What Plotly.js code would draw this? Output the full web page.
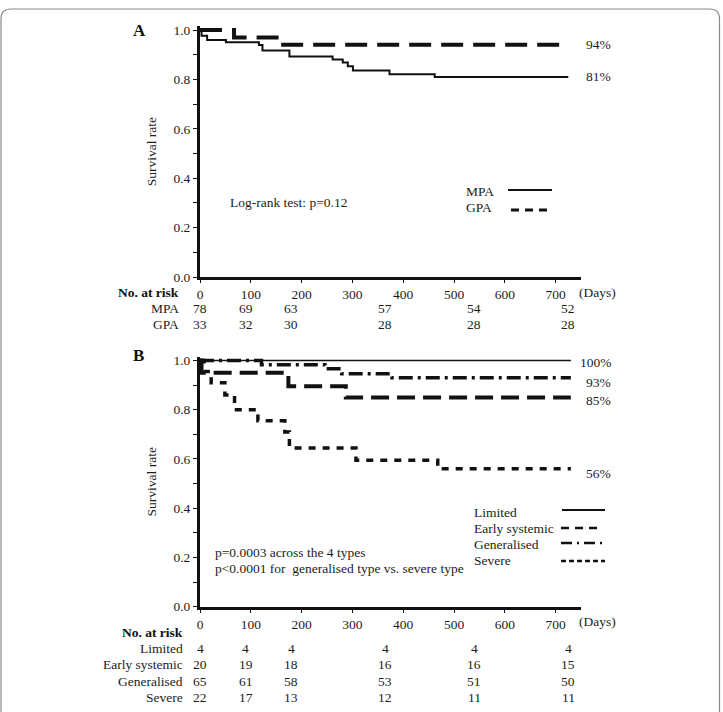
<!DOCTYPE html>
<html>
<head>
<meta charset="utf-8">
<script src="https://cdn.plot.ly/plotly-3.0.1.min.js"></script>
<style>
  html, body { margin: 0; padding: 0; background: #fff; }
  #chart { width: 723px; height: 712px; }
</style>
</head>
<body>
<div id="chart"></div>
<script>
// ---- Panel A: survival by diagnosis (MPA vs GPA) ----
const mpaDays = [0, 3, 14, 51, 116, 123, 176, 261, 281, 291, 301, 373, 462, 725];
const mpaSurv = [1, 0.977, 0.96, 0.95, 0.939, 0.917, 0.893, 0.881, 0.868, 0.853, 0.836, 0.821, 0.81, 0.81];
const gpaDays = [0, 67, 159, 725];
const gpaSurv = [1, 0.97, 0.94, 0.94];

// ---- Panel B: survival by EUVAS disease type ----
const limitedDays = [0, 730];
const limitedSurv = [1, 1];
const earlyDays = [0, 3, 174, 287, 730];
const earlySurv = [1, 0.95, 0.895, 0.85, 0.85];
const generalDays = [0, 121, 246, 279, 378, 730];
const generalSurv = [1, 0.983, 0.966, 0.946, 0.93, 0.93];
const severeDays = [0, 8, 22, 49, 68, 114, 167, 176, 307, 468, 730];
const severeSurv = [1, 0.955, 0.91, 0.86, 0.80, 0.755, 0.71, 0.645, 0.595, 0.56, 0.56];

// ---- Numbers at risk ----
const riskDays = [0, 90, 180, 365, 540, 725];
const mpaRisk = [78, 69, 63, 57, 54, 52];
const gpaRisk = [33, 32, 30, 28, 28, 28];
const limitedRisk = [4, 4, 4, 4, 4, 4];
const earlyRisk = [20, 19, 18, 16, 16, 15];
const generalRisk = [65, 61, 58, 53, 51, 50];
const severeRisk = [22, 17, 13, 12, 11, 11];

// ---- Axis ticks ----
const dayTicks = [0, 100, 200, 300, 400, 500, 600, 700];

const W = 723, H = 712;
const px = x => x / W;
const py = y => 1 - y / H;
const SERIF = 'Liberation Serif, Times New Roman, serif';
const FS = 13.5;
const INK = '#111';
const TXT = '#1c1c1c';

function xAxis(anchor) {
  return {
    domain: [px(200), px(581)], range: [0, 750], anchor: anchor,
    showline: true, linewidth: 3, linecolor: INK,
    ticks: 'outside', ticklen: 3, tickwidth: 1, tickcolor: INK,
    tickvals: dayTicks, showgrid: false, zeroline: false,
    tickfont: { family: SERIF, size: FS, color: TXT }
  };
}
function yAxis(anchor, dom) {
  return {
    domain: dom, range: [0, 1.015], anchor: anchor,
    showline: true, linewidth: 3, linecolor: INK,
    ticks: 'outside', ticklen: 4, tickwidth: 1, tickcolor: INK,
    tick0: 0, dtick: 0.2, tickformat: '.1f',
    minor: { dtick: 0.1, tick0: 0, ticks: 'outside', ticklen: 4, tickwidth: 1, tickcolor: INK },
    showgrid: false, zeroline: false,
    tickfont: { family: SERIF, size: FS, color: TXT },
    title: { text: 'Survival rate', font: { family: SERIF, size: FS, color: TXT }, standoff: 14 }
  };
}

function curve(x, y, xa, ya, width, dash) {
  return { x: x, y: y, xaxis: xa, yaxis: ya, type: 'scatter', mode: 'lines',
    line: { shape: 'hv', color: INK, width: width, dash: dash || 'solid' },
    hoverinfo: 'skip' };
}

const data = [
  curve(mpaDays, mpaSurv, 'x', 'y', 2, 'solid'),
  curve(gpaDays, gpaSurv, 'x', 'y', 4, '22px,10px'),
  curve(limitedDays, limitedSurv, 'x2', 'y2', 1.6, 'solid'),
  curve(earlyDays, earlySurv, 'x2', 'y2', 4, '18px,8px'),
  curve(generalDays, generalSurv, 'x2', 'y2', 3.5, '14px,5px,3px,5px'),
  curve(severeDays, severeSurv, 'x2', 'y2', 3.5, '7px,7px')
];

const ann = [];
function text(t, x, y, opts) {
  ann.push(Object.assign({
    text: t, x: px(x), y: py(y), xref: 'paper', yref: 'paper', showarrow: false,
    xanchor: 'left', yanchor: 'middle', font: { family: SERIF, size: FS, color: TXT }
  }, opts || {}));
}

// panel letters
text('<b>A</b>', 131, 30, { font: { family: SERIF, size: 17, color: INK } });
text('<b>B</b>', 131, 355, { font: { family: SERIF, size: 17, color: INK } });

// end-point percentages
text('94%', 584, 44);
text('81%', 584, 77);
text('100%', 578, 362);
text('93%', 584, 382);
text('85%', 584, 400);
text('56%', 584, 473);

// statistics
text('Log-rank test: p=0.12', 228, 202);
text('p=0.0003 across the 4 types', 213, 552);
text('p<0.0001 for  generalised type vs. severe type', 213, 568);

// legends
const shapes = [];
function legendLine(x0, x1, y, width, dash) {
  shapes.push({ type: 'line', xref: 'paper', yref: 'paper', x0: px(x0), x1: px(x1), y0: py(y), y1: py(y),
    line: { color: INK, width: width, dash: dash } });
}
text('MPA', 464, 191);
text('GPA', 464, 207);
legendLine(508, 552, 190, 2, 'solid');
legendLine(511, 549, 210, 3, '8px,6px');

text('Limited', 472, 512);
text('Early systemic', 472, 528);
text('Generalised', 472, 544);
text('Severe', 472, 560);
legendLine(562, 605, 510, 1.8, 'solid');
legendLine(561, 600, 528, 2.5, '8px,6px');
legendLine(561, 605, 543, 2.5, '11px,5px,2px,5px');
legendLine(561, 605, 561, 2.5, '5px,3px');

// days unit next to the tick labels
text('(Days)', 577, 293);
text('(Days)', 577, 621);

// numbers-at-risk tables
function riskRow(label, values, y, xa, right) {
  text(label, right, y, { xanchor: 'right' });
  values.forEach((v, i) => {
    ann.push({ text: String(v), x: riskDays[i], y: py(y), xref: xa, yref: 'paper', showarrow: false,
      xanchor: 'center', yanchor: 'middle', font: { family: SERIF, size: FS, color: TXT } });
  });
}
text('<b>No. at risk</b>', 181, 293, { xanchor: 'right', font: { family: SERIF, size: FS, color: INK } });
riskRow('MPA', mpaRisk, 308, 'x', 181);
riskRow('GPA', gpaRisk, 324, 'x', 181);

text('<b>No. at risk</b>', 185, 632, { xanchor: 'right', font: { family: SERIF, size: FS, color: INK } });
riskRow('Limited', limitedRisk, 648, 'x2', 185);
riskRow('Early systemic', earlyRisk, 664, 'x2', 185);
riskRow('Generalised', generalRisk, 681, 'x2', 185);
riskRow('Severe', severeRisk, 697, 'x2', 185);

// rounded frame around the figure
const r = 10;
const L = 1, R = 719.5, T = 9, B = 730;
shapes.push({
  type: 'path', xref: 'paper', yref: 'paper', layer: 'below',
  path: `M ${px(L)},${py(B)} L ${px(L)},${py(T + r)} Q ${px(L)},${py(T)} ${px(L + r)},${py(T)} ` +
        `L ${px(R - r)},${py(T)} Q ${px(R)},${py(T)} ${px(R)},${py(T + r)} L ${px(R)},${py(B)}`,
  line: { color: '#8a8a8a', width: 1.2 }
});

const layout = {
  width: W, height: H,
  margin: { l: 0, r: 0, t: 0, b: 0 },
  paper_bgcolor: '#fff', plot_bgcolor: 'rgba(0,0,0,0)',
  showlegend: false,
  xaxis: xAxis('y'),
  yaxis: yAxis('x', [py(277), py(26.3)]),
  xaxis2: xAxis('y2'),
  yaxis2: yAxis('x2', [py(606.7), py(356.8)]),
  annotations: ann,
  shapes: shapes
};

Plotly.newPlot('chart', data, layout, { displayModeBar: false, staticPlot: true });
</script>
</body>
</html>
